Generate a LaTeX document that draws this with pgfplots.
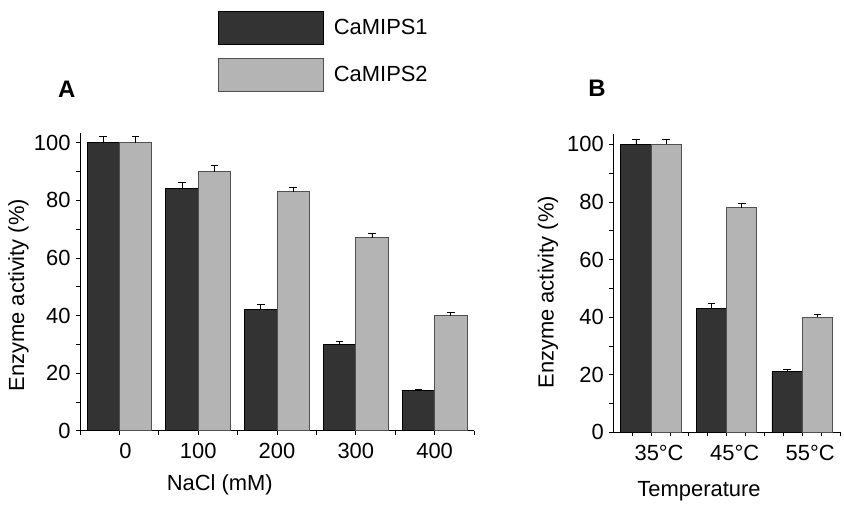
\documentclass[border=0pt]{standalone}
\usepackage{fontspec}
\setmainfont{Liberation Sans}
\usepackage{pgfplots}
\usepackage{pgfplotstable}
\pgfplotsset{compat=1.18}

\definecolor{darkbar}{HTML}{333333}
\definecolor{lightbar}{HTML}{B4B4B4}
\definecolor{lightedge}{HTML}{505050}

% NaCl series: mean and upper error
\pgfplotstableread{
x  m1   e1   m2   e2
0  100  2.2  100  2.2
1  84   2.1  90   2.0
2  42   1.7  83   1.5
3  30   1.0  67   1.5
4  14   0.5  40   1.1
}\nacl

% temperature series
\pgfplotstableread{
x  m1   e1   m2   e2
0  100  1.9  100  1.9
1  43   1.6  78   1.5
2  21   1.0  40   0.9
}\temp

\newcommand{\bigfont}{\fontsize{22}{26}\selectfont}

\pgfplotsset{
  panel/.style={
    scale only axis,
    height=298bp,
    ymin=0, ymax=103.5,
    axis lines=left,
    axis line style={-, black, line width=0.9bp},
    ytick={0,20,...,100},
    minor ytick={10,30,...,90},
    tick align=outside,
    major tick length=4bp, minor tick length=4bp,
    every tick/.style={black, line width=0.8bp},
    minor tick style={black, line width=0.8bp},
    tick label style={font=\bigfont},
    label style={font=\bigfont},
    /pgf/number format/assume math mode=true,
    ybar=0pt,
    enlargelimits=false,
    clip=false,
    ylabel={Enzyme activity (\%)},
    yticklabel style={xshift=-2bp},
    xticklabel style={yshift=-5bp},
  },
  legimg/.style={legend image code/.code={\draw[##1] (0bp,-16.7bp) rectangle (105bp,16.7bp);}},
  s1/.style={fill=darkbar, draw=black, line width=0.8bp, legimg,
    error bars/.cd, y dir=plus, y explicit,
    error bar style={black, line width=0.8bp},
    error mark options={black, line width=0.8bp, mark size=3.8bp, rotate=90}},
  s2/.style={fill=lightbar, draw=lightedge, line width=0.8bp, legimg,
    error bars/.cd, y dir=plus, y explicit,
    error bar style={black, line width=0.8bp},
    error mark options={black, line width=0.8bp, mark size=3.8bp, rotate=90}},
}

\begin{document}
\begin{tikzpicture}
\useasboundingbox (0,0) rectangle (844bp,-507bp);

\begin{axis}[panel,
  at={(80bp,-430.7bp)}, anchor=south west,
  width=394bp,
  xmin=-0.5, xmax=4.5,
  bar width=0.41,
  xtick={0,1,2,3,4},
  minor xtick={-0.5,0.5,1.5,2.5,3.5,4.5},
  xticklabels={\hphantom{0}0,100,200,300,400},
  xlabel={NaCl (mM)},
  xlabel style={at={(axis description cs:0.355,-0.182)}, anchor=center},
  ylabel style={at={(axis description cs:-0.156,0.455)}, anchor=center, inner sep=0pt},
  legend style={at={(axis description cs:0.350,1.41)}, anchor=north west,
    draw=none, fill=none, inner sep=0pt, row sep=13bp, column sep=8bp,
    font=\bigfont, legend cell align=left},
]
\addplot[s1] table[x=x, y=m1, y error=e1] {\nacl};
\addplot[s2] table[x=x, y=m2, y error=e2] {\nacl};
\legend{CaMIPS1, CaMIPS2}
\end{axis}

\begin{axis}[panel,
  at={(613.3bp,-432.3bp)}, anchor=south west,
  width=226.7bp,
  xmin=-0.5, xmax=2.5,
  bar width=0.4,
  xtick={0,1,2},
  minor xtick={-0.25,0.25,0.5,0.75,1.25,1.5,1.75,2.25,2.5},
  xticklabels={35°C,45°C,55°C},
  xticklabel style={xshift=8bp},
  xlabel={Temperature},
  xlabel style={at={(axis description cs:0.378,-0.199)}, anchor=center},
  ylabel style={at={(axis description cs:-0.288,0.47)}, anchor=center, inner sep=0pt},
]
\addplot[s1] table[x=x, y=m1, y error=e1] {\temp};
\addplot[s2] table[x=x, y=m2, y error=e2] {\temp};
\end{axis}

\node[font=\fontsize{24}{28}\selectfont\bfseries] at (66.7bp,-89.5bp) {A};
\node[font=\fontsize{24}{28}\selectfont\bfseries] at (597bp,-88.7bp) {B};
\end{tikzpicture}
\end{document}
